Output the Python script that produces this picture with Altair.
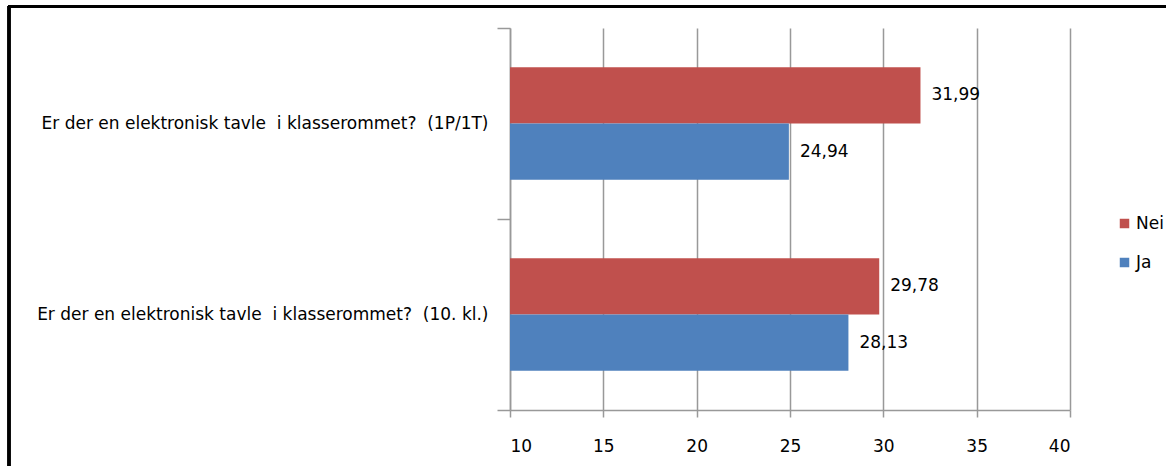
import altair as alt
import pandas as pd

categories = [
    "Er der en elektronisk tavle\u00a0\u00a0i klasserommet?\u00a0\u00a0(1P/1T)",
    "Er der en elektronisk tavle\u00a0\u00a0i klasserommet?\u00a0\u00a0(10. kl.)",
]
series = ["Nei", "Ja"]
nei_values = [31.99, 29.78]
ja_values = [24.94, 28.13]
x_ticks = [10, 15, 20, 25, 30, 35, 40]

rows = []
for c, n, j in zip(categories, nei_values, ja_values):
    rows.append({"cat": c, "serie": "Nei", "val": n})
    rows.append({"cat": c, "serie": "Ja", "val": j})
df = pd.DataFrame(rows)
df["label"] = df["val"].map(lambda v: f"{v:.2f}".replace(".", ","))

FONT = "DejaVu Sans"
FS = 17
colors = ["#C0504D", "#4F81BD"]

y_enc = alt.Y("cat:N", sort=categories, title=None,
              scale=alt.Scale(paddingInner=0, paddingOuter=0),
              axis=alt.Axis(tickBand="extent", tickSize=13, labelPadding=9,
                            domainColor="#999999", tickColor="#999999",
                            domainWidth=1.5, tickWidth=1.5,
                            labelFont=FONT, labelFontSize=FS, labelColor="#000000",
                            labelLimit=600))
yoff = alt.YOffset("serie:N", sort=series,
                   scale=alt.Scale(paddingOuter=0.7, paddingInner=0))

x_enc = alt.X("val:Q", title=None,
              scale=alt.Scale(domain=[10, 40], nice=False, zero=False),
              axis=alt.Axis(values=x_ticks, tickSize=7, labelPadding=21,
                            grid=True, gridColor="#999999", gridWidth=1.5,
                            domainColor="#999999", tickColor="#999999",
                            domainWidth=1.5, tickWidth=1.5,
                            labelFont=FONT, labelFontSize=FS, labelColor="#000000"))

bars = alt.Chart(df).mark_bar(orient="horizontal").encode(
    x=x_enc,
    x2=alt.datum(10),
    y=y_enc,
    yOffset=yoff,
    color=alt.Color("serie:N", sort=series,
                    scale=alt.Scale(domain=series, range=colors),
                    legend=alt.Legend(title=None, orient="none", legendX=606, legendY=187,
                                      symbolType="square", symbolSize=90,
                                      symbolStrokeWidth=0, rowPadding=21,
                                      labelFont=FONT, labelFontSize=FS,
                                      labelColor="#000000", labelOffset=3)),
)

texts = alt.Chart(df).mark_text(align="left", baseline="middle", dx=11,
                                font=FONT, fontSize=FS, color="#000000").encode(
    x=alt.X("val:Q"),
    y=alt.Y("cat:N", sort=categories),
    yOffset=alt.YOffset("serie:N", sort=series),
    text="label:N",
)

frame_left = alt.Chart(df).mark_rule(color="#000000", strokeWidth=3).encode(
    x=alt.value(-501), y=alt.value(-22), y2=alt.value(440))
frame_top = alt.Chart(df).mark_rule(color="#000000", strokeWidth=3).encode(
    x=alt.value(-502), x2=alt.value(660), y=alt.value(-21.5))

chart = alt.layer(bars, texts, frame_left, frame_top).properties(
    width=560, height=382,
    autosize=alt.AutoSizeParams(type="none"),
    padding={"left": 510, "top": 28, "right": 96, "bottom": 56},
    background="#ffffff",
).configure_view(stroke=None)

chart.save("out.html", embed_options={"renderer": "svg", "actions": False})
